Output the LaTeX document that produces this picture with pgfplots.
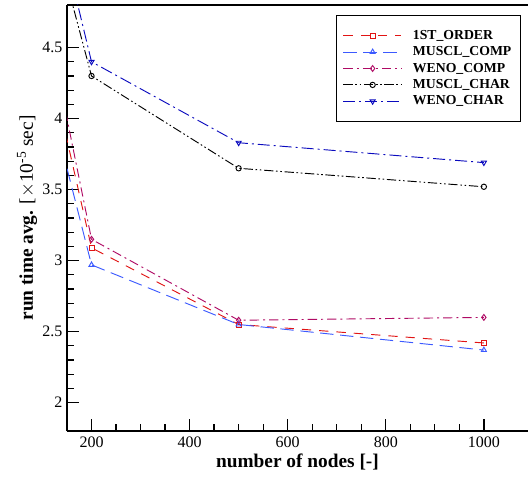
\documentclass[border=0pt]{standalone}
\usepackage{fontspec}
\setmainfont{Liberation Serif}
\usepackage{pgfplots}
\pgfplotsset{compat=1.18}

\definecolor{cred}{RGB}{225,20,20}
\definecolor{cblue}{RGB}{60,90,255}
\definecolor{cpurple}{RGB}{175,10,100}
\definecolor{cnavy}{RGB}{10,10,190}

\begin{document}
\begin{tikzpicture}
\begin{axis}[
  scale only axis,
  width=345.75pt, height=319.5pt,
  xmin=150, xmax=1090, ymin=1.8, ymax=4.8,
  axis x line*=box, axis y line*=left,
  xtick={200,400,600,800,1000},
  ytick={2,2.5,3,3.5,4,4.5},
  minor x tick num=3, minor y tick num=4,
  tick align=inside,
  xtick pos=left, ytick pos=left,
  major tick length=9pt, minor tick length=5pt,
  every tick/.style={black, line width=1pt},
  axis line style={line width=1.6pt, -},
  /pgf/number format/assume math mode=true,
  /pgf/number format/1000 sep={},
  tick label style={font=\fontsize{12}{14}\selectfont},
  xticklabel style={yshift=-1pt},
  xlabel={\textbf{number of nodes [-]}},
  ylabel={\textbf{run time avg.} [$\times$10\textsuperscript{-5} sec]},
  label style={font=\fontsize{14.5}{16}\selectfont},
  xlabel style={at={(axis description cs:0.5,-0.0716)}, anchor=center},
  ylabel style={at={(axis description cs:-0.0868,0.5)}, anchor=center, rotate=0},
  clip=true,
  legend cell align=left,
  legend style={at={(rel axis cs:0.985,0.9765)}, anchor=north east,
    font=\fontsize{10.3}{12.4}\bfseries\selectfont, draw=black, line width=0.6pt,
    inner ysep=9pt, inner xsep=5pt, row sep=0pt},
  legend image code/.code={
    \draw[#1,mark=none] (0cm,0cm) -- (1.53cm,0cm);
    \path[#1,solid] plot coordinates {(0.77cm,0cm)};
    \path (1.75cm,0cm);
  },
]
\addplot[color=cred, line width=0.7pt, dash pattern=on 7pt off 6pt, mark=square, mark size=1.9pt, mark options={solid}]
  coordinates {(100,4.61) (200,3.09) (500,2.55) (1000,2.42)};
\addlegendentry{1ST\_ORDER}
\addplot[color=cblue, line width=0.7pt, dash pattern=on 10pt off 5pt, mark=triangle, mark size=2.2pt, mark options={solid}]
  coordinates {(100,4.33) (200,2.97) (500,2.55) (1000,2.37)};
\addlegendentry{MUSCL\_COMP}
\addplot[color=cpurple, line width=0.7pt, dash pattern=on 7pt off 3pt on 1.5pt off 3pt, mark=diamond, mark size=2.2pt, mark options={solid}]
  coordinates {(100,4.85) (200,3.15) (500,2.58) (1000,2.60)};
\addlegendentry{WENO\_COMP}
\addplot[color=black, line width=0.7pt, dash pattern=on 7pt off 2pt on 1.2pt off 2pt on 1.2pt off 2pt, mark=o, mark size=2pt, mark options={solid}]
  coordinates {(100,5.60) (200,4.30) (500,3.65) (1000,3.52)};
\addlegendentry{MUSCL\_CHAR}
\addplot[color=cnavy, line width=0.7pt, dash pattern=on 9pt off 3pt on 1.5pt off 3pt, mark=triangle, mark size=2.2pt, mark options={solid, rotate=180}]
  coordinates {(100,5.83) (200,4.40) (500,3.83) (1000,3.69)};
\addlegendentry{WENO\_CHAR}
\coordinate (ll) at (rel axis cs:0,0);
\coordinate (ur) at (rel axis cs:1,1);
\end{axis}
\pgfresetboundingbox
\path ([shift={(-50.25pt,-34.5pt)}]ll) rectangle ([shift={(0pt,3.75pt)}]ur);
\end{tikzpicture}
\end{document}
